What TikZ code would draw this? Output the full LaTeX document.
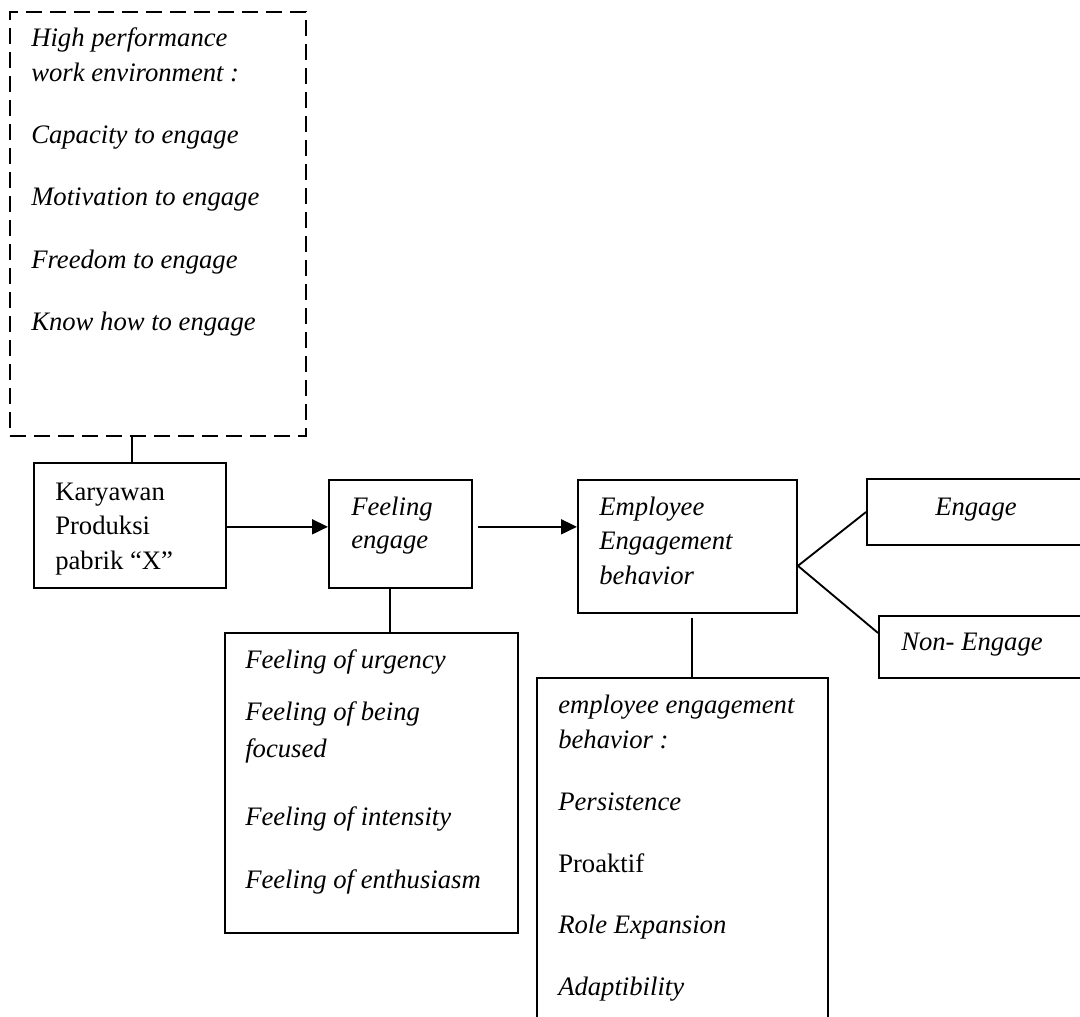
\documentclass[tikz,border=0pt]{standalone}
\usepackage{fontspec}
\setmainfont{Liberation Serif}
\usetikzlibrary{arrows.meta,fit,calc}
\begin{document}
\begin{tikzpicture}[x=0.75pt,y=-0.75pt,
  box/.style={draw,line width=1.4pt,inner sep=0pt},
  dbox/.style={draw,line width=1.4pt,inner sep=0pt,dash pattern=on 12pt off 6pt},
  txt/.style={anchor=base west,inner sep=0pt,font=\fontsize{20}{24}\selectfont},
  itx/.style={txt,font=\fontsize{20}{24}\selectfont\itshape},
  link/.style={line width=1.4pt},
  arr/.style={line width=2pt,-{Triangle[length=12pt,width=11pt]}}]
\clip (0,0) rectangle (1080,1016);
\fill[white] (0,0) rectangle (1080,1016);
% boxes
\node[dbox,fit={(10,12) (306,436)}] (hp) {};
\node[box,fit={(34,463) (226,588)}] (kar) {};
\node[box,fit={(329,480) (472,588)}] (fe) {};
\node[box,fit={(578,480) (797,613)}] (emp) {};
\node[box,fit={(867,479) (1095,545)}] (eng) {};
\node[box,fit={(879,616) (1095,678)}] (non) {};
\node[box,fit={(225,633) (518,933)}] (fl) {};
\node[box,fit={(537,678) (828,1030)}] (el) {};
% texts: high performance
\node[itx] (t1) at (31,47) {High performance};
\node[itx] (t2) at (31,82) {work environment :};
\node[itx] (t3) at (31,144) {Capacity to engage};
\node[itx] (t4) at (31,205) {Motivation to engage};
\node[itx] (t5) at (31,268) {Freedom to engage};
\node[itx] (t6) at (31,330) {Know how to engage};
% karyawan
\node[txt] (k1) at (55,500) {Karyawan};
\node[txt] (k2) at (55,534) {Produksi};
\node[txt] (k3) at (55,569) {pabrik “X”};
% feeling engage
\node[itx] (f1) at (351,515) {Feeling};
\node[itx] (f2) at (351,548) {engage};
% employee engagement behavior
\node[itx] (e1) at (599,515) {Employee};
\node[itx] (e2) at (599,549) {Engagement};
\node[itx] (e3) at (599,584) {behavior};
% outcomes
\node[itx] (g1) at (935,515) {Engage};
\node[itx] (n1) at (901,650) {Non- Engage};
% feeling list
\node[itx] (l1) at (245,668) {Feeling of urgency};
\node[itx] (l2) at (245,720) {Feeling of being};
\node[itx] (l3) at (245,757) {focused};
\node[itx] (l4) at (245,825) {Feeling of intensity};
\node[itx] (l5) at (245,888) {Feeling of enthusiasm};
% behaviour list
\node[itx] (b1) at (558,713) {employee engagement};
\node[itx] (b2) at (558,748) {behavior :};
\node[itx] (b3) at (558,810) {Persistence};
\node[txt] (b4) at (558,872) {Proaktif};
\node[itx] (b5) at (558,933) {Role Expansion};
\node[itx] (b6) at (558,995) {Adaptibility};
% connectors
\draw[link] ([xshift=1.5pt]kar.north |- hp.south) -- ([xshift=1.5pt]kar.north);
\draw[arr] ([yshift=-1pt]kar.east) -- ([yshift=-1pt]kar.east -| fe.west);
\draw[arr] ([xshift=3.75pt,yshift=-1pt]fe.east |- kar.east) -- ([yshift=-1pt]kar.east -| emp.west);
\coordinate (j) at ([yshift=-14.5pt]emp.east);
\draw[link] (eng.west) -- (j) -- ([yshift=10.5pt]non.west);
\draw[link] ([xshift=-8pt]fe.south) -- ([xshift=-8pt]fe.south |- fl.north);
\draw[link] ([xshift=3.4pt,yshift=-3pt]emp.south) -- ([xshift=3.4pt]emp.south |- el.north);
\end{tikzpicture}
\end{document}
